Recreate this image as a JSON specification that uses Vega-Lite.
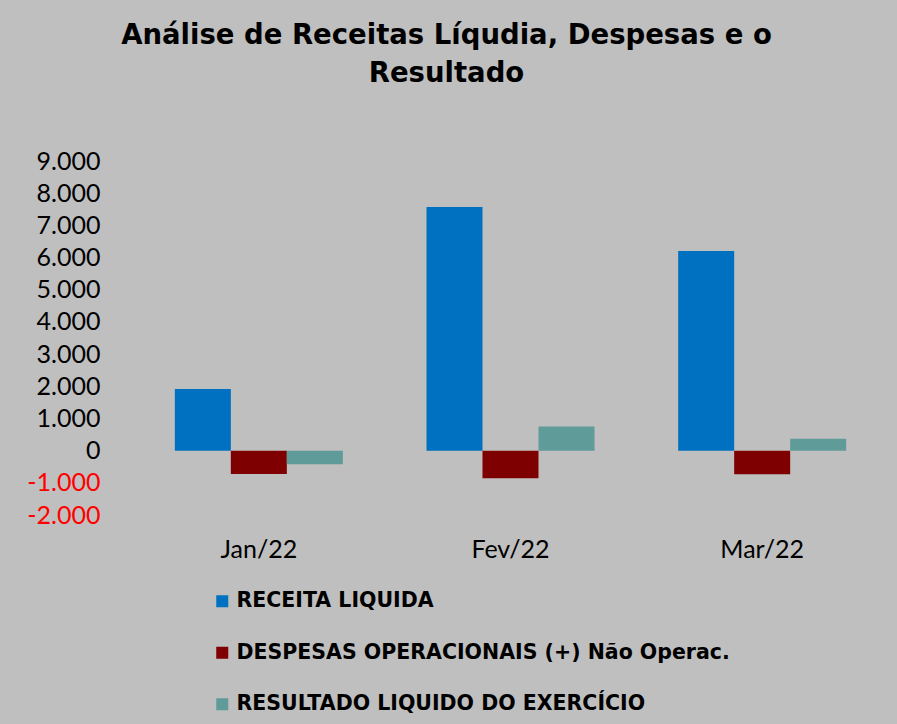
{
  "$schema": "https://vega.github.io/schema/vega-lite/v6.json",
  "width": 755,
  "height": 354,
  "autosize": {"type": "none"},
  "padding": {"left": 133, "top": 161, "right": 9, "bottom": 209},
  "background": "#BFBFBF",
  "title": {
    "text": ["Análise de Receitas Líqudia, Despesas  e o", "Resultado"],
    "font": "DejaVu Sans",
    "fontSize": 27.5,
    "fontWeight": "bold",
    "color": "#000000",
    "lineHeight": 38,
    "anchor": "middle",
    "frame": "group",
    "dx": -64,
    "offset": 62
  },
  "data": {
    "values": [
      {"mes": "Jan/22", "serie": "RECEITA LIQUIDA", "valor": 1915},
      {"mes": "Jan/22", "serie": "DESPESAS OPERACIONAIS (+) Não Operac.", "valor": -725},
      {"mes": "Jan/22", "serie": "RESULTADO LIQUIDO DO EXERCÍCIO", "valor": -425},
      {"mes": "Fev/22", "serie": "RECEITA LIQUIDA", "valor": 7570},
      {"mes": "Fev/22", "serie": "DESPESAS OPERACIONAIS (+) Não Operac.", "valor": -860},
      {"mes": "Fev/22", "serie": "RESULTADO LIQUIDO DO EXERCÍCIO", "valor": 747},
      {"mes": "Mar/22", "serie": "RECEITA LIQUIDA", "valor": 6200},
      {"mes": "Mar/22", "serie": "DESPESAS OPERACIONAIS (+) Não Operac.", "valor": -737},
      {"mes": "Mar/22", "serie": "RESULTADO LIQUIDO DO EXERCÍCIO", "valor": 373}
    ]
  },
  "mark": {"type": "bar"},
  "encoding": {
    "x": {
      "field": "mes",
      "type": "nominal",
      "sort": ["Jan/22", "Fev/22", "Mar/22"],
      "scale": {"paddingInner": 0.3325, "paddingOuter": 0.16625},
      "axis": {
        "title": null,
        "labelAngle": 0,
        "domain": false,
        "ticks": false,
        "labelFont": "Lato",
        "labelFontSize": 25,
        "labelColor": "#000000",
        "labelPadding": 22,
        "labelBaseline": "top"
      }
    },
    "xOffset": {
      "field": "serie",
      "type": "nominal",
      "sort": ["RECEITA LIQUIDA", "DESPESAS OPERACIONAIS (+) Não Operac.", "RESULTADO LIQUIDO DO EXERCÍCIO"],
      "scale": {"paddingInner": 0, "paddingOuter": 0}
    },
    "y": {
      "field": "valor",
      "type": "quantitative",
      "scale": {"domain": [-2000, 9000], "nice": false, "zero": false},
      "axis": {
        "title": null,
        "values": [-2000, -1000, 0, 1000, 2000, 3000, 4000, 5000, 6000, 7000, 8000, 9000],
        "domain": false,
        "ticks": false,
        "grid": false,
        "labelFont": "Lato",
        "labelFontSize": 25,
        "labelPadding": 33,
        "labelExpr": "datum.value == 0 ? '0' : (datum.value < 0 ? '-' : '') + toString(abs(datum.value) / 1000) + '.000'",
        "labelColor": {"condition": {"test": "datum.value < 0", "value": "#FF0000"}, "value": "#000000"}
      }
    },
    "color": {
      "field": "serie",
      "type": "nominal",
      "sort": ["RECEITA LIQUIDA", "DESPESAS OPERACIONAIS (+) Não Operac.", "RESULTADO LIQUIDO DO EXERCÍCIO"],
      "scale": {
        "domain": ["RECEITA LIQUIDA", "DESPESAS OPERACIONAIS (+) Não Operac.", "RESULTADO LIQUIDO DO EXERCÍCIO"],
        "range": ["#0070C0", "#7F0000", "#5F9B98"]
      },
      "legend": {
        "title": null,
        "orient": "none",
        "legendX": 79,
        "legendY": 430,
        "direction": "vertical",
        "symbolType": "square",
        "symbolSize": 144,
        "symbolStrokeWidth": 0,
        "symbolOpacity": 1,
        "labelFont": "DejaVu Sans",
        "labelFontSize": 20.5,
        "labelFontWeight": "bold",
        "labelColor": "#000000",
        "labelOffset": 4,
        "rowPadding": 30.5,
        "labelLimit": 0
      }
    }
  },
  "config": {
    "view": {"stroke": null}
  }
}
